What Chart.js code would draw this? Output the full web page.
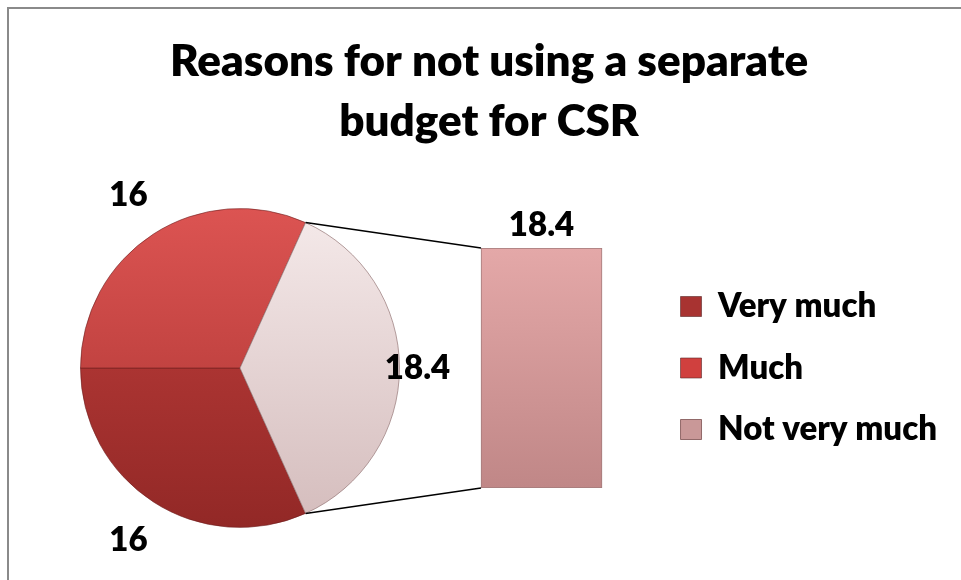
<!DOCTYPE html>
<html>
<head>
<meta charset="utf-8">
<title>Reasons for not using a separate budget for CSR</title>
<script src="https://cdn.jsdelivr.net/npm/chart.js@4.4.1/dist/chart.umd.min.js"></script>
<style>
  html, body { margin: 0; padding: 0; background: #fff; overflow: hidden; }
  #wrap { position: relative; width: 961px; height: 580px; overflow: hidden; }
  #frame { position: absolute; left: 7px; top: 7px; width: 1000px; height: 1000px; border: 2px solid #8a8a8a; }
  canvas { position: absolute; left: 0; top: 0; }
</style>
</head>
<body>
<div id="wrap">
  <div id="frame"></div>
  <canvas id="pie-chart" width="961" height="580"></canvas>
  <canvas id="bar-chart" width="961" height="580"></canvas>
</div>
<script>
var titleLines = ["Reasons for not using a separate", "budget for CSR"];
var categories = ["Very much", "Much", "Not very much"];
var values = [16, 16, 18.4];
// the first answers stay in the pie, the rest is split out into the bar
var pieCount = 2;

var barLabels = categories.slice(pieCount);
var barValues = values.slice(pieCount);
var otherTotal = barValues.reduce(function(a, b) { return a + b; }, 0);
var pieLabels = categories.slice(0, pieCount).concat(["Other"]);
var pieValues = values.slice(0, pieCount).concat([otherTotal]);
var total = pieValues.reduce(function(a, b) { return a + b; }, 0);

var pieColors = [["#c4403e", "#922826"], ["#dc5452", "#a83230"], ["#f5eaea", "#d4bcbc"]];
var pieBorders = ["rgba(110,30,30,0.6)", "rgba(110,30,30,0.6)", "rgba(150,120,120,0.7)"];
var barColors = ["#e4a8a8", "#c08787"];
var legendColors = ["#a83331", "#d0403e", "#c99898"];
var font = "Lato, 'Open Sans', sans-serif";

document.addEventListener("DOMContentLoaded", function() {
  var pieCtx = document.getElementById("pie-chart").getContext("2d");
  var barCtx = document.getElementById("bar-chart").getContext("2d");

  var vGradient = function(chart, top, bottom) {
    var area = chart.chartArea;
    if (!area) return top;
    var g = chart.ctx.createLinearGradient(0, area.top, 0, area.bottom);
    g.addColorStop(0, top);
    g.addColorStop(1, bottom);
    return g;
  };

  var pieValueLabels = {
    id: "pieValueLabels",
    afterDatasetsDraw: function(chart) {
      var ctx = chart.ctx;
      var arcs = chart.getDatasetMeta(0).data;
      ctx.save();
      ctx.font = "800 33px " + font;
      ctx.fillStyle = "#000";
      ctx.textAlign = "center";
      ctx.textBaseline = "middle";
      arcs.forEach(function(arc, i) {
        var mid = (arc.startAngle + arc.endAngle) / 2;
        var dist = arc.outerRadius + (i < pieCount ? 46 : 18);
        ctx.fillText(pieValues[i], arc.x + Math.cos(mid) * dist, arc.y + Math.sin(mid) * dist);
      });
      ctx.restore();
    }
  };

  var pieChart = new Chart(pieCtx, {
    type: "pie",
    data: {
      labels: pieLabels,
      datasets: [{
        data: pieValues,
        backgroundColor: function(c) {
          var col = pieColors[c.dataIndex];
          return vGradient(c.chart, col[0], col[1]);
        },
        borderColor: pieBorders,
        borderWidth: 1
      }]
    },
    options: {
      responsive: false,
      animation: false,
      // other slice centred on the right, facing the bar
      rotation: 90 + 180 * otherTotal / total,
      layout: { padding: { left: 80, top: 208, right: 561, bottom: 52 } },
      plugins: {
        legend: { display: false },
        title: { display: false },
        tooltip: { enabled: false }
      }
    },
    plugins: [pieValueLabels]
  });

  var connectors = {
    id: "connectors",
    beforeDatasetsDraw: function(chart) {
      var arc = pieChart.getDatasetMeta(0).data[pieCount];
      var bar = chart.getDatasetMeta(0).data[0];
      var left = bar.x - bar.width / 2;
      var r = arc.outerRadius;
      var ctx = chart.ctx;
      ctx.save();
      ctx.strokeStyle = "#000";
      ctx.lineWidth = 1.5;
      ctx.beginPath();
      ctx.moveTo(arc.x + r * Math.cos(arc.startAngle), arc.y + r * Math.sin(arc.startAngle));
      ctx.lineTo(left, bar.y);
      ctx.moveTo(arc.x + r * Math.cos(arc.endAngle), arc.y + r * Math.sin(arc.endAngle));
      ctx.lineTo(left, bar.base);
      ctx.stroke();
      ctx.restore();
    }
  };

  var barValueLabel = {
    id: "barValueLabel",
    afterDatasetsDraw: function(chart) {
      var ctx = chart.ctx;
      ctx.save();
      ctx.font = "800 33px " + font;
      ctx.fillStyle = "#000";
      ctx.textAlign = "center";
      ctx.textBaseline = "middle";
      chart.getDatasetMeta(0).data.forEach(function(bar, i) {
        ctx.fillText(barValues[i], bar.x, bar.y - 23);
      });
      ctx.restore();
    }
  };

  var barChart = new Chart(barCtx, {
    type: "bar",
    data: {
      labels: barLabels,
      datasets: [{
        label: barLabels[0],
        data: barValues,
        backgroundColor: function(c) {
          return vGradient(c.chart, barColors[0], barColors[1]);
        },
        borderColor: "rgba(140,90,90,0.8)",
        borderWidth: 1,
        borderSkipped: false,
        barThickness: 121
      }]
    },
    options: {
      responsive: false,
      animation: false,
      layout: { padding: { left: 31, right: 14, top: 0, bottom: 92 } },
      scales: {
        x: { display: false },
        y: {
          min: 0,
          max: otherTotal,
          grid: { display: false },
          ticks: { display: false },
          border: { display: false },
          // keeps the bar between the pie and the legend
          afterFit: function(scale) { scale.width = 400; }
        }
      },
      plugins: {
        title: {
          display: true,
          text: titleLines,
          color: "#000",
          font: { family: font, size: 44, weight: 800, lineHeight: "60px" },
          padding: { top: 32, bottom: 96 }
        },
        legend: {
          position: "right",
          fullSize: false,
          maxWidth: 330,
          labels: {
            boxWidth: 21,
            boxHeight: 20,
            padding: 28.5,
            color: "#000",
            font: { family: font, size: 33, weight: 800 },
            generateLabels: function() {
              return categories.map(function(name, i) {
                return {
                  text: name,
                  fillStyle: legendColors[i],
                  strokeStyle: "rgba(90,40,40,0.6)",
                  lineWidth: 1,
                  hidden: false,
                  index: i
                };
              });
            }
          }
        },
        tooltip: { enabled: false }
      }
    },
    plugins: [connectors, barValueLabel]
  });
});
</script>
</body>
</html>
